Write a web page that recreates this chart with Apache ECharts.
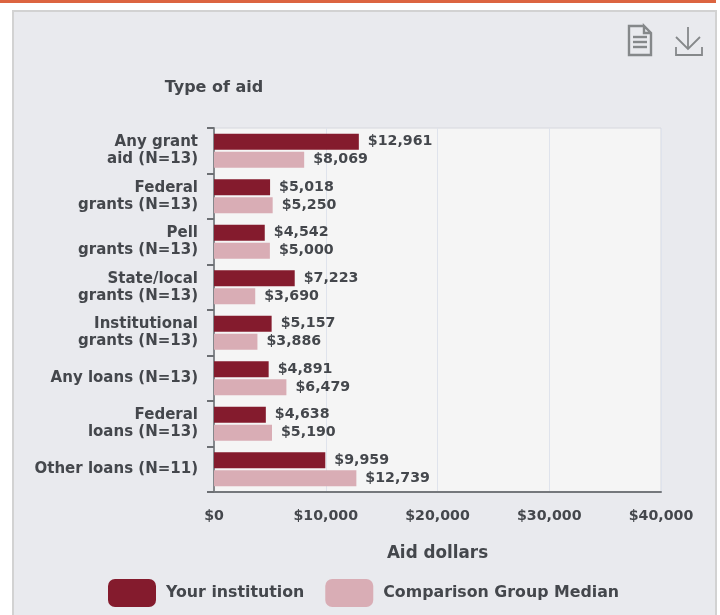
<!DOCTYPE html>
<html><head><meta charset="utf-8">
<style>html,body{margin:0;padding:0;background:#fff;overflow:hidden}
#c{width:720px;height:615px}</style>
<script src="https://cdn.jsdelivr.net/npm/echarts@6/dist/echarts.min.js"></script>
</head><body><div id="c"></div>
<script>
const categories=["Any grant\naid (N=13)","Federal\ngrants (N=13)","Pell\ngrants (N=13)","State/local\ngrants (N=13)","Institutional\ngrants (N=13)","Any loans (N=13)","Federal\nloans (N=13)","Other loans (N=11)"];
const yourInstitution=[12961,5018,4542,7223,5157,4891,4638,9959];
const comparisonMedian=[8069,5250,5000,3690,3886,6479,5190,12739];
const FONT='"DejaVu Sans",sans-serif';
const TXT='#44474c';
const money=v=>'$'+Number(v).toLocaleString('en-US');
const chart=echarts.init(document.getElementById('c'),null,{renderer:'canvas'});
function lbl(){return {show:true,position:'right',distance:9,formatter:p=>money(p.value),color:TXT,fontFamily:FONT,fontSize:14.2,fontWeight:'bold'};}
const ICON='#85888a';
function pl(points,w){return {type:'polyline',silent:true,z:5,shape:{points},style:{fill:'none',stroke:ICON,lineWidth:w}};}
chart.setOption({
 animation:false,
 backgroundColor:'#fff',
 graphic:[
  {type:'rect',silent:true,z:-10,shape:{x:0,y:0,width:716,height:3},style:{fill:'#dc6440'}},
  {type:'rect',silent:true,z:-10,shape:{x:13,y:11,width:703,height:610},style:{fill:'#e9eaee',stroke:'#d2d2d2',lineWidth:2}},
  pl([[643,26],[629,26],[629,55],[651,55],[651,33],[644,26],[644,33],[651,33]],2.4),
  pl([[633,37],[647,37]],2.4),pl([[633,42],[647,42]],2.4),pl([[633,47],[647,47]],2.4),
  pl([[688,27],[688,49]],1.8),pl([[676,37],[688,49],[700,37]],1.8),pl([[676,47],[676,55],[702,55],[702,47]],1.8)
 ],
 grid:{left:214,top:128,right:59,bottom:123,show:true,backgroundColor:'#f5f5f5',borderColor:'#d6d8de',borderWidth:1},
 legend:{
  bottom:3,left:103,itemWidth:48,itemHeight:28,itemGap:21,
  icon:'roundRect',
  textStyle:{color:TXT,fontFamily:FONT,fontSize:15.8,fontWeight:'bold',padding:[0,0,0,5]},
  data:['Your institution','Comparison Group Median']
 },
 xAxis:{type:'value',min:0,max:40000,interval:10000,
  name:'Aid dollars',nameLocation:'middle',nameGap:53,
  nameTextStyle:{color:TXT,fontFamily:FONT,fontSize:16.8,fontWeight:'bold'},
  axisLine:{show:true,lineStyle:{color:'#75787c',width:2}},
  axisTick:{show:false},
  axisLabel:{color:TXT,fontFamily:FONT,fontSize:14.2,fontWeight:'bold',margin:17,formatter:money},
  splitLine:{show:true,lineStyle:{color:'#dfe3ec',width:1}}},
 yAxis:{type:'category',inverse:true,data:categories,
  name:'Type of aid',nameLocation:'start',nameGap:32,
  nameTextStyle:{color:TXT,fontFamily:FONT,fontSize:16,fontWeight:'bold',align:'center'},
  axisLine:{show:true,lineStyle:{color:'#85888c',width:2}},
  axisTick:{show:true,length:7,alignWithLabel:false,lineStyle:{color:'#6c6f73',width:2}},
  axisLabel:{color:TXT,fontFamily:FONT,fontSize:15,fontWeight:'bold',lineHeight:17,margin:16,align:'right'},
  splitLine:{show:false}},
 series:[
  {name:'Your institution',type:'bar',data:yourInstitution,barWidth:16,barGap:'12%',itemStyle:{color:'#841b2d'},label:lbl()},
  {name:'Comparison Group Median',type:'bar',data:comparisonMedian,barWidth:16,itemStyle:{color:'#d9adb5'},label:lbl()}
 ]
});
</script></body></html>
